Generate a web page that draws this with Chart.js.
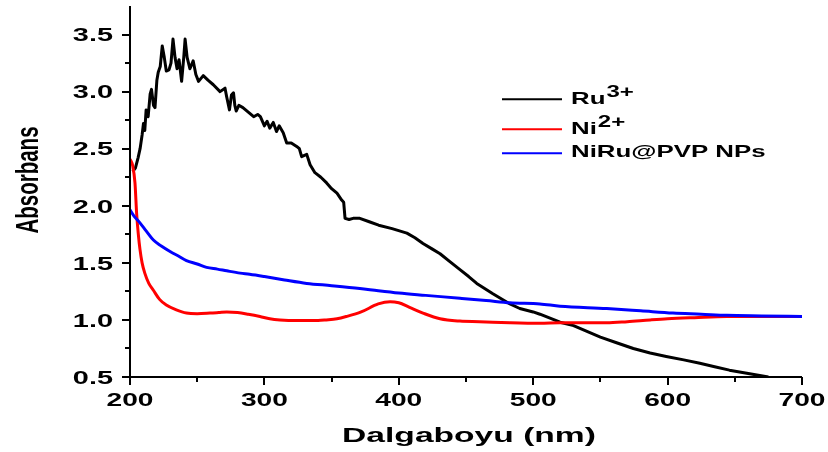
<!DOCTYPE html>
<html>
<head>
<meta charset="utf-8">
<title>Absorbans</title>
<script src="https://cdn.jsdelivr.net/npm/chart.js@4.4.1/dist/chart.umd.min.js"></script>
<style>
    body { margin: 0; background: #fff; }
    canvas { display: block; }
</style>
</head>
<body>
<canvas id="uvChart" width="828" height="452"></canvas>
<script>
// Ru3+ spectrum (nm, absorbance)
var ruX = [202, 204, 206, 207.5, 209, 210, 211, 212, 213.5, 215, 216, 217.5, 218.6, 220, 221, 222.5, 224, 225.5, 227, 229,
    230.5, 232, 233.5, 235, 236.5, 238.4, 240, 241, 242.5, 244.6, 247, 249, 251, 254.5, 258, 262, 267, 270.7, 272, 274,
    275.5, 277, 278, 279, 281, 284, 288, 292, 295, 297, 300, 302, 304, 306.6, 309, 311, 314, 316.6, 320, 324,
    326, 327.7, 331.5, 334, 337.6, 342, 346.3, 350, 354, 357.5, 359, 360, 363, 366, 371, 378, 385, 395, 406, 412,
    418, 425, 430.7, 438, 445.5, 452, 458, 470, 482.7, 490, 500, 505, 520, 530, 540, 550, 562, 574.5, 587, 599,
    612, 624, 635, 646, 660, 675];
var ruY = [2.30, 2.33, 2.42, 2.50, 2.62, 2.72, 2.66, 2.84, 2.78, 2.98, 3.02, 2.88, 2.86, 3.10, 3.17, 3.22, 3.40, 3.30, 3.18, 3.19,
    3.25, 3.46, 3.30, 3.20, 3.28, 3.09, 3.30, 3.46, 3.30, 3.20, 3.27, 3.15, 3.09, 3.14, 3.10, 3.06, 3.00, 3.03, 2.95, 2.84,
    2.97, 2.99, 2.88, 2.83, 2.88, 2.86, 2.82, 2.78, 2.80, 2.78, 2.70, 2.74, 2.68, 2.73, 2.65, 2.70, 2.64, 2.55, 2.55, 2.52,
    2.50, 2.43, 2.45, 2.36, 2.29, 2.25, 2.20, 2.15, 2.11, 2.05, 2.03, 1.89, 1.88, 1.89, 1.89, 1.86, 1.83, 1.80, 1.76, 1.72,
    1.67, 1.62, 1.58, 1.51, 1.44, 1.38, 1.32, 1.23, 1.14, 1.10, 1.07, 1.05, 0.98, 0.95, 0.90, 0.85, 0.80, 0.75, 0.71, 0.68,
    0.65, 0.62, 0.59, 0.56, 0.53, 0.50];

// Ni2+ spectrum
var niX = [200, 202, 203.7, 205, 206.2, 207.4, 209, 211, 214, 217.4, 222, 227, 234, 242, 250, 259.5, 266, 272, 280, 288,
    296.7, 304, 311.6, 325, 340, 346, 354, 361, 372, 384.7, 393.5, 400, 408, 418, 430.7, 445.5, 460, 482.7, 505, 520,
    554.7, 570, 587, 600, 620, 644, 670, 700];
var niY = [2.41, 2.35, 2.20, 1.92, 1.75, 1.62, 1.50, 1.41, 1.32, 1.26, 1.18, 1.13, 1.09, 1.06, 1.055, 1.06, 1.065, 1.07, 1.065, 1.05,
    1.03, 1.01, 1.00, 0.995, 0.995, 1.00, 1.01, 1.03, 1.07, 1.14, 1.16, 1.15, 1.11, 1.06, 1.01, 0.99, 0.985, 0.975, 0.97, 0.975,
    0.975, 0.985, 1.00, 1.01, 1.02, 1.03, 1.03, 1.03];

// NiRu@PVP NPs spectrum
var npX = [200, 203, 207.4, 212, 217.4, 223, 229.8, 236, 242, 250, 257, 265, 272, 282, 289, 300, 315, 331.5, 350, 371,
    384.7, 400, 420, 445.5, 465, 482.7, 505, 520, 554.7, 580, 604, 625, 644, 670, 700];
var npY = [1.965, 1.91, 1.85, 1.78, 1.70, 1.65, 1.60, 1.56, 1.52, 1.49, 1.46, 1.445, 1.43, 1.41, 1.40, 1.38, 1.35, 1.32, 1.30, 1.275,
    1.255, 1.235, 1.215, 1.19, 1.17, 1.15, 1.14, 1.12, 1.10, 1.08, 1.06, 1.05, 1.04, 1.035, 1.03];

var xTicks = [200, 300, 400, 500, 600, 700];
var yTicks = [0.5, 1.0, 1.5, 2.0, 2.5, 3.0, 3.5];

var seriesNames = ['Ru', 'Ni', 'NiRu@PVP NPs'];
var seriesCharges = ['3+', '2+', ''];
var seriesColors = ['#000000', '#ff0000', '#0000ff'];

var FONT = "'Liberation Sans', Arial, sans-serif";

function toPoints(xs, ys) {
    var pts = [];
    for (var i = 0; i < xs.length; i++) {
        pts.push({x: xs[i], y: ys[i]});
    }
    return pts;
}

// text drawn wider than normal, like the original figure export
function wideText(ctx, text, x, y, sx, align) {
    ctx.save();
    ctx.translate(x, y);
    ctx.scale(sx, 1);
    ctx.textAlign = align;
    ctx.textBaseline = 'alphabetic';
    ctx.fillText(text, 0, 0);
    ctx.restore();
}

var axesPlugin = {
    id: 'originAxes',
    afterDraw: function (chart) {
        var ctx = chart.ctx;
        var xs = chart.scales.x, ys = chart.scales.y;
        var area = chart.chartArea;
        var x0 = xs.getPixelForValue(200);
        var y0 = ys.getPixelForValue(0.5);

        ctx.save();
        ctx.strokeStyle = '#000';
        ctx.fillStyle = '#000';
        ctx.lineWidth = 2;

        // axis lines
        ctx.beginPath();
        ctx.moveTo(x0, area.top);
        ctx.lineTo(x0, y0 + 1);
        ctx.moveTo(x0 - 1, y0);
        ctx.lineTo(xs.getPixelForValue(700), y0);
        ctx.stroke();

        // y ticks, major every 0.5 and minor in between
        ctx.beginPath();
        for (var v = 0.5; v < 3.74; v += 0.25) {
            var py = Math.round(ys.getPixelForValue(v));
            var major = Math.abs(v * 2 - Math.round(v * 2)) < 1e-6;
            ctx.moveTo(x0, py);
            ctx.lineTo(x0 - (major ? 8 : 5), py);
        }
        // x ticks, major every 100 and minor in between
        for (var w = 200; w <= 700; w += 50) {
            var px = Math.round(xs.getPixelForValue(w));
            ctx.moveTo(px, y0);
            ctx.lineTo(px, y0 + (w % 100 === 0 ? 8 : 5));
        }
        ctx.stroke();

        // tick labels
        ctx.font = 'bold 19px ' + FONT;
        yTicks.forEach(function (t) {
            wideText(ctx, t.toFixed(1), 113, ys.getPixelForValue(t) + 6.8, 1.52, 'right');
        });
        xTicks.forEach(function (t) {
            wideText(ctx, String(t), xs.getPixelForValue(t), 405.5, 1.48, 'center');
        });

        // axis titles
        ctx.font = 'bold 21px ' + FONT;
        wideText(ctx, 'Dalgaboyu (nm)', 469, 441.5, 1.6, 'center');

        ctx.save();
        ctx.translate(38, 180);
        ctx.scale(1.55, 1);
        ctx.rotate(-Math.PI / 2);
        ctx.font = 'bold 20.5px ' + FONT;
        ctx.textAlign = 'center';
        ctx.textBaseline = 'alphabetic';
        ctx.fillText('Absorbans', 0, 0);
        ctx.restore();

        // legend
        var lineY = [99.3, 129.3, 153.3];
        var baseY = [104.3, 134.3, 157.3];
        var supY = [96.7, 126.7, 0];
        for (var i = 0; i < seriesNames.length; i++) {
            ctx.strokeStyle = seriesColors[i];
            ctx.lineWidth = 2;
            ctx.beginPath();
            ctx.moveTo(502, lineY[i]);
            ctx.lineTo(562, lineY[i]);
            ctx.stroke();

            ctx.fillStyle = '#000';
            ctx.font = 'bold 17px ' + FONT;
            wideText(ctx, seriesNames[i], 571, baseY[i], 1.52, 'left');
            if (seriesCharges[i]) {
                var nameW = ctx.measureText(seriesNames[i]).width * 1.52;
                ctx.font = 'bold 16px ' + FONT;
                wideText(ctx, seriesCharges[i], 571 + nameW + 1, supY[i], 1.5, 'left');
            }
        }
        ctx.restore();
    }
};

var ctx = document.getElementById('uvChart');

var uvChart = new Chart(ctx, {
    type: 'line',
    data: {
        datasets: [{
                label: 'Ru3+',
                data: toPoints(ruX, ruY),
                borderColor: seriesColors[0],
                borderWidth: 3,
                borderJoinStyle: 'round',
                pointRadius: 0,
                tension: 0,
                order: 2
            }, {
                label: 'Ni2+',
                data: toPoints(niX, niY),
                borderColor: seriesColors[1],
                borderWidth: 3,
                pointRadius: 0,
                cubicInterpolationMode: 'monotone',
                order: 1
            }, {
                label: 'NiRu@PVP NPs',
                data: toPoints(npX, npY),
                borderColor: seriesColors[2],
                borderWidth: 3,
                pointRadius: 0,
                cubicInterpolationMode: 'monotone',
                order: 0
            }]
    },
    options: {
        responsive: false,
        animation: false,
        layout: {padding: {top: 6, right: 26, left: 0, bottom: 0}},
        plugins: {
            legend: {display: false},
            tooltip: {enabled: false}
        },
        scales: {
            x: {
                type: 'linear',
                min: 200,
                max: 700,
                ticks: {display: false},
                grid: {display: false},
                border: {display: false},
                afterFit: function (scale) { scale.height = 75; }
            },
            y: {
                min: 0.5,
                max: 3.75,
                ticks: {display: false},
                grid: {display: false},
                border: {display: false},
                afterFit: function (scale) { scale.width = 130; }
            }
        }
    },
    plugins: [axesPlugin]
});
</script>
</body>
</html>
